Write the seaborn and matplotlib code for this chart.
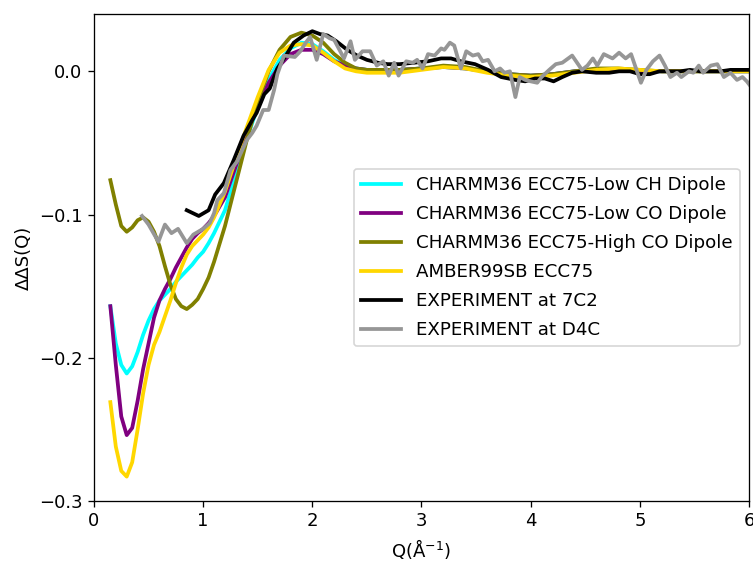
import numpy as np
import pandas as pd
import matplotlib
matplotlib.use('Agg')
import matplotlib.pyplot as plt
import seaborn as sns

# Q grid used for the simulation curves
q_sim = [0.15, 0.20, 0.25, 0.30, 0.35, 0.40, 0.45, 0.50, 0.55, 0.60, 0.65, 0.70,
         0.75, 0.80, 0.85, 0.90, 0.95, 1.00, 1.05, 1.10, 1.20, 1.30, 1.40, 1.50,
         1.60, 1.70, 1.80, 1.90, 2.00, 2.10, 2.20, 2.30, 2.40, 2.50, 2.60, 2.80,
         3.00, 3.20, 3.40, 3.60, 3.80, 4.00, 4.20, 4.40, 4.60, 4.80, 5.00, 5.20,
         5.40, 5.60, 5.80, 6.00]

low_ch = [-0.164, -0.190, -0.205, -0.211, -0.206, -0.196, -0.184, -0.174, -0.166, -0.160, -0.156, -0.152,
          -0.147, -0.143, -0.139, -0.135, -0.130, -0.126, -0.120, -0.113, -0.097, -0.072, -0.047, -0.025,
          -0.006, 0.008, 0.016, 0.020, 0.019, 0.014, 0.008, 0.004, 0.002, 0.001, 0.001, 0.001,
          0.002, 0.003, 0.002, 0.000, -0.002, -0.003, -0.002, 0.000, 0.001, 0.001, 0.000, 0.000,
          0.000, 0.000, 0.000, 0.000]

low_co = [-0.164, -0.205, -0.241, -0.254, -0.249, -0.230, -0.208, -0.190, -0.172, -0.160, -0.152, -0.145,
          -0.137, -0.130, -0.123, -0.117, -0.113, -0.110, -0.106, -0.101, -0.088, -0.066, -0.044, -0.024,
          -0.008, 0.004, 0.012, 0.015, 0.015, 0.012, 0.007, 0.004, 0.002, 0.001, 0.001, 0.001,
          0.002, 0.003, 0.002, 0.000, -0.002, -0.003, -0.002, 0.000, 0.001, 0.001, 0.000, 0.000,
          0.000, 0.000, 0.000, 0.000]

high_co = [-0.076, -0.093, -0.108, -0.112, -0.109, -0.104, -0.102, -0.105, -0.112, -0.122, -0.136, -0.149,
           -0.159, -0.164, -0.166, -0.163, -0.159, -0.152, -0.144, -0.133, -0.108, -0.078, -0.048, -0.021,
           0.000, 0.015, 0.024, 0.027, 0.025, 0.020, 0.012, 0.006, 0.002, 0.001, 0.001, 0.001,
           0.002, 0.004, 0.003, 0.000, -0.002, -0.003, -0.002, 0.000, 0.002, 0.002, 0.001, 0.000,
           0.000, 0.000, 0.000, 0.000]

amber = [-0.231, -0.262, -0.279, -0.283, -0.273, -0.250, -0.225, -0.205, -0.191, -0.182, -0.171, -0.160,
         -0.148, -0.137, -0.128, -0.122, -0.118, -0.114, -0.109, -0.102, -0.084, -0.061, -0.039, -0.018,
         0.001, 0.013, 0.018, 0.019, 0.018, 0.013, 0.007, 0.002, 0.000, -0.001, -0.001, -0.001,
         0.001, 0.003, 0.002, -0.001, -0.003, -0.004, -0.003, -0.001, 0.001, 0.002, 0.001, 0.000,
         0.000, 0.000, 0.000, 0.000]

# experiment at 7C2
q_7c2 = [0.85, 0.96, 1.05, 1.11, 1.19, 1.28, 1.37, 1.45, 1.49, 1.56, 1.61, 1.68, 1.75, 1.83,
         1.92, 2.00, 2.07, 2.14, 2.22, 2.32, 2.41, 2.50, 2.60, 2.69, 2.80, 2.93, 3.06, 3.18,
         3.27, 3.36, 3.49, 3.61, 3.73, 3.86, 3.95, 4.04, 4.13, 4.21, 4.29, 4.38, 4.47, 4.60,
         4.72, 4.81, 4.91, 5.00, 5.09, 5.18, 5.28, 5.37, 5.46, 5.55, 5.65, 5.74, 5.83, 5.92, 6.02]
exp_7c2 = [-0.097, -0.101, -0.097, -0.086, -0.078, -0.062, -0.045, -0.034, -0.029, -0.016, -0.012, 0.002, 0.010, 0.020,
           0.025, 0.028, 0.026, 0.025, 0.021, 0.015, 0.011, 0.008, 0.006, 0.005, 0.005, 0.006, 0.007, 0.009,
           0.009, 0.007, 0.005, 0.001, -0.004, -0.006, -0.007, -0.005, -0.005, -0.007, -0.004, -0.001, 0.000, -0.001,
           -0.001, 0.000, 0.000, -0.002, -0.002, 0.000, 0.000, 0.000, 0.001, 0.000, 0.000, 0.000, 0.001, 0.001, 0.001]

# experiment at D4C
q_d4c = [0.44, 0.50, 0.59, 0.65, 0.71, 0.77, 0.85, 0.91, 1.00, 1.06, 1.10, 1.13, 1.19, 1.25,
         1.31, 1.40, 1.45, 1.49, 1.55, 1.60, 1.65, 1.68, 1.74, 1.84, 1.89, 1.94, 1.98, 2.04,
         2.10, 2.16, 2.20, 2.29, 2.35, 2.39, 2.46, 2.53, 2.59, 2.65, 2.70, 2.75, 2.79, 2.86,
         2.92, 2.96, 3.01, 3.06, 3.12, 3.18, 3.21, 3.26, 3.30, 3.36, 3.41, 3.47, 3.52, 3.56,
         3.61, 3.67, 3.72, 3.76, 3.81, 3.86, 3.90, 3.95, 4.00, 4.06, 4.10, 4.17, 4.23, 4.29,
         4.38, 4.47, 4.52, 4.57, 4.61, 4.67, 4.75, 4.81, 4.87, 4.92, 5.01, 5.06, 5.12, 5.18,
         5.23, 5.28, 5.34, 5.38, 5.45, 5.49, 5.54, 5.58, 5.65, 5.71, 5.77, 5.83, 5.89, 5.94,
         5.98, 6.03]
exp_d4c = [-0.101, -0.107, -0.119, -0.107, -0.113, -0.110, -0.120, -0.114, -0.110, -0.106, -0.099, -0.090, -0.085, -0.069,
           -0.063, -0.048, -0.043, -0.038, -0.027, -0.027, -0.013, -0.002, 0.011, 0.010, 0.014, 0.020, 0.024, 0.008,
           0.026, 0.023, 0.022, 0.009, 0.021, 0.008, 0.014, 0.014, 0.004, 0.007, -0.003, 0.006, -0.003, 0.007,
           0.006, 0.008, 0.002, 0.012, 0.011, 0.016, 0.015, 0.020, 0.018, 0.002, 0.014, 0.011, 0.012, 0.007,
           0.008, 0.000, 0.002, -0.001, 0.000, -0.018, -0.004, -0.006, -0.007, -0.008, -0.004, 0.001, 0.005, 0.006,
           0.011, 0.001, 0.004, 0.009, 0.004, 0.012, 0.009, 0.013, 0.009, 0.012, -0.008, 0.001, 0.007, 0.011,
           0.004, -0.004, -0.001, -0.004, 0.000, -0.001, 0.004, -0.001, 0.004, 0.005, -0.004, -0.001, -0.006, -0.004,
           -0.007, -0.012]

labels = ['CHARMM36 ECC75-Low CH Dipole', 'CHARMM36 ECC75-Low CO Dipole',
          'CHARMM36 ECC75-High CO Dipole', 'AMBER99SB ECC75',
          'EXPERIMENT at 7C2', 'EXPERIMENT at D4C']
colors = ['cyan', 'purple', 'olive', 'gold', 'black', '#969696']


def main():
    series = [(q_sim, low_ch), (q_sim, low_co), (q_sim, high_co), (q_sim, amber),
              (q_7c2, exp_7c2), (q_d4c, exp_d4c)]

    fig, ax = plt.subplots(figsize=(753 / 117.6, 561 / 117.6), dpi=117.6)
    fig.subplots_adjust(left=0.1248, right=0.9947, bottom=0.107, top=0.975)

    for (q, s), lab, col in zip(series, labels, colors):
        df = pd.DataFrame({'Q': q, 'S': s})
        sns.lineplot(x='Q', y='S', data=df, ax=ax, color=col, linewidth=2.3, label=lab)

    ax.set_xlim(0, 6)
    ax.set_ylim(-0.3, 0.04)
    ax.set_yticks([0.0, -0.1, -0.2, -0.3])
    ax.tick_params(labelsize=11)
    ax.set_xlabel(r'Q($\mathrm{\AA}^{-1}$)', fontsize=11)
    ax.set_ylabel('ΔΔS(Q)', fontsize=11)
    ax.legend(loc='center right', fontsize=11.2, labelspacing=0.6, handlelength=2.2)

    plt.savefig('out.png', dpi=117.6)


if __name__ == "__main__":
    main()
